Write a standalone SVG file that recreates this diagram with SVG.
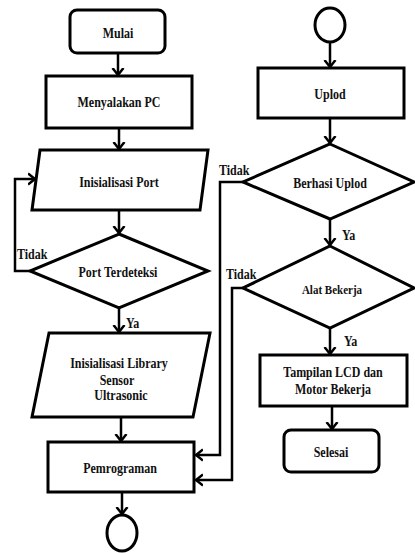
<svg xmlns="http://www.w3.org/2000/svg" width="415" height="553" viewBox="0 0 415 553">
  <style>
    .box { fill: #fff; stroke: #000; stroke-width: 3; stroke-linejoin: miter; }
    .line { fill: none; stroke: #000; stroke-width: 2.5; }
    .t { font-family: "Liberation Serif", "Times New Roman", serif; font-weight: bold; font-size: 12px; fill: #111;
         text-anchor: middle; transform-box: fill-box; transform-origin: center; transform: scaleY(1.18); }
    .lbl { text-anchor: start; }
    .sm { font-size: 11px; }
  </style>
  <defs>
    <marker id="arrow" markerUnits="userSpaceOnUse" markerWidth="14" markerHeight="14" viewBox="-7 -7 14 14" refX="0" refY="0" orient="auto">
      <path d="M-7,-5.5 L0,0 L-7,5.5" fill="none" stroke="#000" stroke-width="2.5"/>
    </marker>
  </defs>

  <!-- connectors -->
  <g id="connectors" class="line">
    <path d="M118,53 V75" marker-end="url(#arrow)"/>
    <path d="M119,128 V149" marker-end="url(#arrow)"/>
    <path d="M119,210 V233" marker-end="url(#arrow)"/>
    <path d="M119,308 V332" marker-end="url(#arrow)"/>
    <path d="M121,417 V441" marker-end="url(#arrow)"/>
    <path d="M122,492 V514" marker-end="url(#arrow)"/>
    <path d="M30,271 H15 V179 H35" marker-end="url(#arrow)"/>
    <path d="M330,42 V67" marker-end="url(#arrow)"/>
    <path d="M330,118 V143" marker-end="url(#arrow)"/>
    <path d="M330,219 V245" marker-end="url(#arrow)"/>
    <path d="M330,328 V354" marker-end="url(#arrow)"/>
    <path d="M332,406 V429" marker-end="url(#arrow)"/>
    <path d="M243,182 H220 V455 H196" marker-end="url(#arrow)"/>
    <path d="M243,288 H232 V480 H196" marker-end="url(#arrow)"/>
  </g>

  <!-- connector labels -->
  <g id="labels">
    <text class="t lbl" x="17" y="258">Tidak</text>
    <text class="t lbl" x="126" y="327">Ya</text>
    <text class="t lbl" x="219" y="174">Tidak</text>
    <text class="t lbl" x="342" y="239">Ya</text>
    <text class="t lbl" x="226" y="278">Tidak</text>
    <text class="t lbl" x="344" y="345">Ya</text>
  </g>

  <!-- left column -->
  <g id="mulai">
    <rect class="box" x="70" y="10" width="95" height="43" rx="7"/>
    <text class="t" x="118" y="37">Mulai</text>
  </g>
  <g id="menyalakan-pc">
    <rect class="box" x="46" y="76" width="146" height="52"/>
    <text class="t" x="119" y="106">Menyalakan PC</text>
  </g>
  <g id="inisialisasi-port">
    <polygon class="box" points="40,150 208,150 200,210 32,210"/>
    <text class="t" x="119" y="186">Inisialisasi Port</text>
  </g>
  <g id="port-terdeteksi">
    <polygon class="box" points="119,234 208,271 119,308 30,271"/>
    <text class="t" x="118" y="276">Port Terdeteksi</text>
  </g>
  <g id="inisialisasi-library">
    <polygon class="box" points="49,333 210,333 193,417 32,417"/>
    <text class="t" x="119" y="367">Inisialisasi Library</text>
    <text class="t" x="117" y="384">Sensor</text>
    <text class="t" x="121" y="399">Ultrasonic</text>
  </g>
  <g id="pemrograman">
    <rect class="box" x="48" y="442" width="146" height="50"/>
    <text class="t" x="120" y="472">Pemrograman</text>
  </g>
  <g id="connector-out">
    <ellipse class="box" cx="122" cy="533" rx="15" ry="18" stroke-width="2.5"/>
  </g>

  <!-- right column -->
  <g id="connector-in">
    <ellipse class="box" cx="330" cy="25" rx="15" ry="17" stroke-width="2.5"/>
  </g>
  <g id="uplod">
    <rect class="box" x="258" y="68" width="146" height="50"/>
    <text class="t" x="330" y="98">Uplod</text>
  </g>
  <g id="berhasil-uplod">
    <polygon class="box" points="330,144 414,182 330,219 243,182"/>
    <text class="t" x="330" y="187">Berhasi Uplod</text>
  </g>
  <g id="alat-bekerja">
    <polygon class="box" points="330,246 414,288 330,328 243,288"/>
    <text class="t sm" x="332" y="293">Alat Bekerja</text>
  </g>
  <g id="tampilan-lcd">
    <rect class="box" x="260" y="355" width="147" height="51"/>
    <text class="t" x="333" y="376">Tampilan LCD dan</text>
    <text class="t" x="333" y="393">Motor Bekerja</text>
  </g>
  <g id="selesai">
    <rect class="box" x="284" y="430" width="95" height="42" rx="7"/>
    <text class="t" x="331" y="456">Selesai</text>
  </g>
</svg>
